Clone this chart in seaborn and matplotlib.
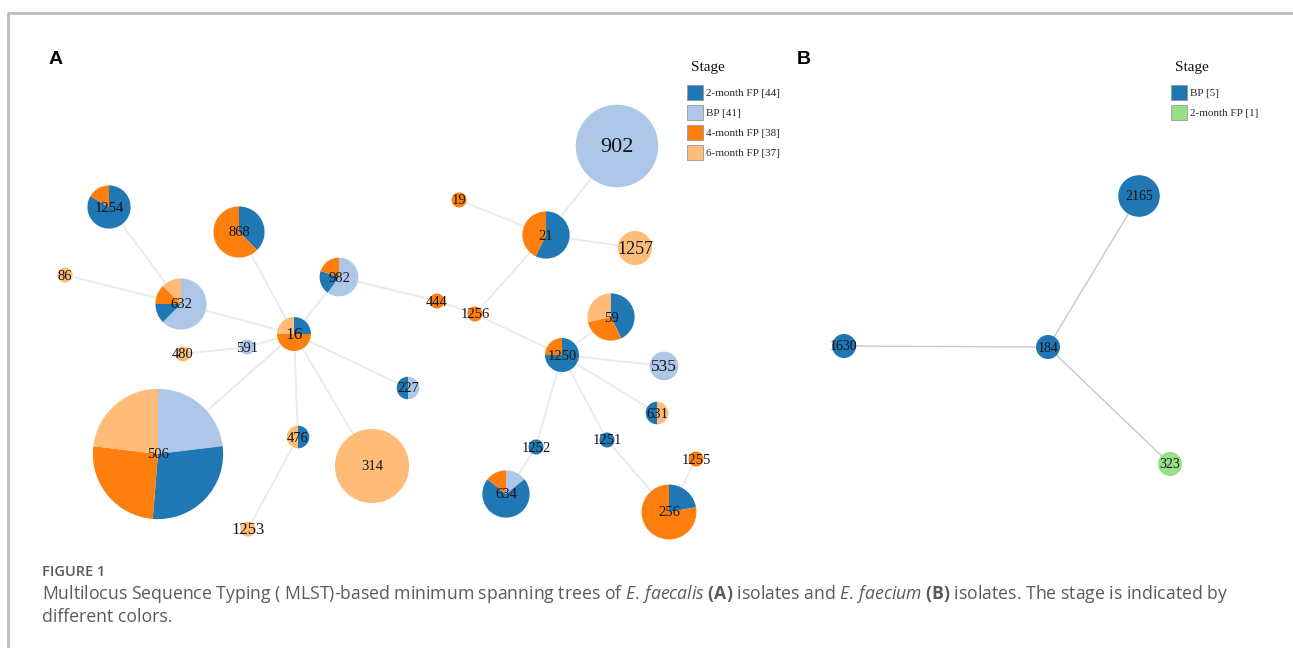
import matplotlib
matplotlib.use("Agg")
import matplotlib.pyplot as plt
from matplotlib.patches import Patch
import seaborn as sns

sns.set_theme(style="white")
plt.rcParams["font.family"] = ["Liberation Serif", "DejaVu Serif"]
plt.rcParams["mathtext.fontset"] = "custom"
plt.rcParams["mathtext.rm"] = "Open Sans"
plt.rcParams["mathtext.it"] = "Open Sans:italic"
plt.rcParams["mathtext.bf"] = "Open Sans:bold"

pal = sns.color_palette("tab20")

# ---- panel A : E. faecalis ----
stages_a = ["2-month FP", "BP", "4-month FP", "6-month FP"]
colors_a = {"2-month FP": pal[0], "BP": pal[1], "4-month FP": pal[2], "6-month FP": pal[3]}

st_a = ["902", "21", "19", "1257", "1256", "444", "982", "1250", "59", "535",
        "631", "1252", "1251", "634", "256", "1255", "16", "868", "632", "1254",
        "86", "591", "480", "506", "476", "1253", "314", "227"]
# isolates per stage, in the order the slices are drawn (clockwise from top)
slices_a = [
    {"BP": 18},
    {"2-month FP": 4, "4-month FP": 3},
    {"4-month FP": 1},
    {"6-month FP": 4},
    {"4-month FP": 1},
    {"4-month FP": 1},
    {"BP": 3, "2-month FP": 1, "4-month FP": 1},
    {"2-month FP": 3, "4-month FP": 1},
    {"2-month FP": 3, "4-month FP": 2, "6-month FP": 2},
    {"BP": 3},
    {"6-month FP": 1, "2-month FP": 1},
    {"2-month FP": 1},
    {"2-month FP": 1},
    {"BP": 1, "2-month FP": 5, "4-month FP": 1},
    {"2-month FP": 2, "4-month FP": 7},
    {"4-month FP": 1},
    {"2-month FP": 1, "4-month FP": 2, "6-month FP": 1},
    {"2-month FP": 3, "4-month FP": 5},
    {"BP": 5, "2-month FP": 1, "4-month FP": 1, "6-month FP": 1},
    {"2-month FP": 5, "4-month FP": 1},
    {"6-month FP": 1},
    {"BP": 1},
    {"6-month FP": 1},
    {"BP": 9, "2-month FP": 11, "4-month FP": 10, "6-month FP": 9},
    {"2-month FP": 1, "6-month FP": 1},
    {"6-month FP": 1},
    {"6-month FP": 15},
    {"BP": 1, "2-month FP": 1},
]
links_a = [("902", "21"), ("19", "21"), ("21", "1257"), ("21", "1256"),
           ("1256", "444"), ("444", "982"), ("1256", "1250"), ("1250", "59"),
           ("1250", "535"), ("1250", "631"), ("1250", "1252"), ("1250", "1251"),
           ("1252", "634"), ("1251", "256"), ("256", "1255"), ("982", "16"),
           ("868", "16"), ("632", "16"), ("1254", "632"), ("86", "632"),
           ("591", "16"), ("480", "591"), ("506", "16"), ("476", "16"),
           ("1253", "476"), ("314", "16"), ("227", "16")]

# ---- panel B : E. faecium ----
stages_b = ["BP", "2-month FP"]
colors_b = {"BP": pal[0], "2-month FP": pal[5]}
st_b = ["2165", "1630", "184", "323"]
slices_b = [{"BP": 3}, {"BP": 1}, {"BP": 1}, {"2-month FP": 1}]
links_b = [("2165", "184"), ("1630", "184"), ("184", "323")]

# layout of the trees (pixel positions in the figure)
layout = {
    "902": (617, 146), "21": (546, 235), "19": (459, 200), "1257": (635, 248),
    "1256": (475, 314), "444": (437, 301), "982": (339, 277), "1250": (562, 355),
    "59": (611, 317), "535": (664, 366), "631": (657, 413), "1252": (536, 447),
    "1251": (607, 440), "634": (506, 494), "256": (669, 512), "1255": (696, 459),
    "16": (294, 334), "868": (239, 232), "632": (181, 304), "1254": (109, 207),
    "86": (65, 275), "591": (247, 347), "480": (183, 354), "506": (158, 454),
    "476": (298, 437), "1253": (248, 529), "314": (372, 466), "227": (408, 388),
    "2165": (1139, 196), "1630": (844, 346), "184": (1048, 347), "323": (1170, 464),
}
big_labels = {"902": 16, "1257": 13, "16": 12.5, "535": 12.5, "1253": 12}

W, H = 1293, 648
fig = plt.figure(figsize=(W / 100, H / 100), dpi=100)
ax = fig.add_axes([0, 0, 1, 1])


def draw_tree(st, slices, links, colors, k, p, edge_col, edge_lw, lab_fs):
    for a, b in links:
        (x1, y1), (x2, y2) = layout[a], layout[b]
        ax.plot([x1, x2], [y1, y2], color=edge_col, lw=edge_lw, zorder=1,
                solid_capstyle="round")
    for s, sl in zip(st, slices):
        n = sum(sl.values())
        ax.pie(list(sl.values()), colors=[colors[c] for c in sl],
               center=layout[s], radius=k * n ** p, startangle=-90,
               counterclock=True, frame=True,
               wedgeprops=dict(linewidth=0, zorder=2))
        ax.text(layout[s][0], layout[s][1] + 1, s, ha="center", va="center",
                fontsize=big_labels.get(s, lab_fs), color="#151515", zorder=3)


draw_tree(st_a, slices_a, links_a, colors_a, 7.5, 0.59, "#ebebeb", 1.4, 10.5)
draw_tree(st_b, slices_b, links_b, colors_b, 12, 0.5, "#c9c9c9", 1.0, 10)


def stage_legend(stages, slices, colors, x, y):
    totals = {s: sum(sl.get(s, 0) for sl in slices) for s in stages}
    handles = [Patch(facecolor=colors[s], edgecolor="0.6", lw=0.6) for s in stages]
    labels = [f"{s} [{totals[s]}]" for s in stages]
    fig.legend(handles, labels, loc="upper left",
               bbox_to_anchor=(x / W, 1 - (y + 17.5) / H), frameon=False,
               fontsize=8, borderpad=0, borderaxespad=0,
               handlelength=1.45, handleheight=1.7, handletextpad=0.3,
               labelspacing=0.45)
    ax.text(x + 4, y, "Stage", fontsize=11, ha="left", va="center", color="#111")


stage_legend(stages_a, slices_a, colors_a, 687, 67)
stage_legend(stages_b, slices_b, colors_b, 1171, 67)

ax.text(49, 60, "A", fontsize=14, fontweight="bold", family="Liberation Sans",
        ha="left", va="center", color="black")
ax.text(797, 60, "B", fontsize=14, fontweight="bold", family="Liberation Sans",
        ha="left", va="center", color="black")

# outer frame of the figure box
ax.plot([8, 8, W], [H, 13, 13], color="#bdbdbd", lw=2, clip_on=False, zorder=0)

cap = "#5a5a5a"
ax.text(42, 572, "FIGURE 1", family="Open Sans", fontweight="semibold", fontsize=10.5,
        color=cap, ha="left", va="center")
ax.text(42, 594,
        r"Multilocus Sequence Typing ( MLST)-based minimum spanning trees of "
        r"$\mathit{E.\,faecalis}$ $\mathbf{(A)}$ isolates and "
        r"$\mathit{E.\,faecium}$ $\mathbf{(B)}$ isolates. "
        r"The stage is indicated by",
        family="Open Sans", fontsize=12.7, color=cap, ha="left", va="center")
ax.text(42, 617, "different colors.", family="Open Sans", fontsize=12.7,
        color=cap, ha="left", va="center")

ax.set_xlim(0, W)
ax.set_ylim(H, 0)
ax.axis("off")
fig.savefig("out.png", dpi=100, facecolor="white")
